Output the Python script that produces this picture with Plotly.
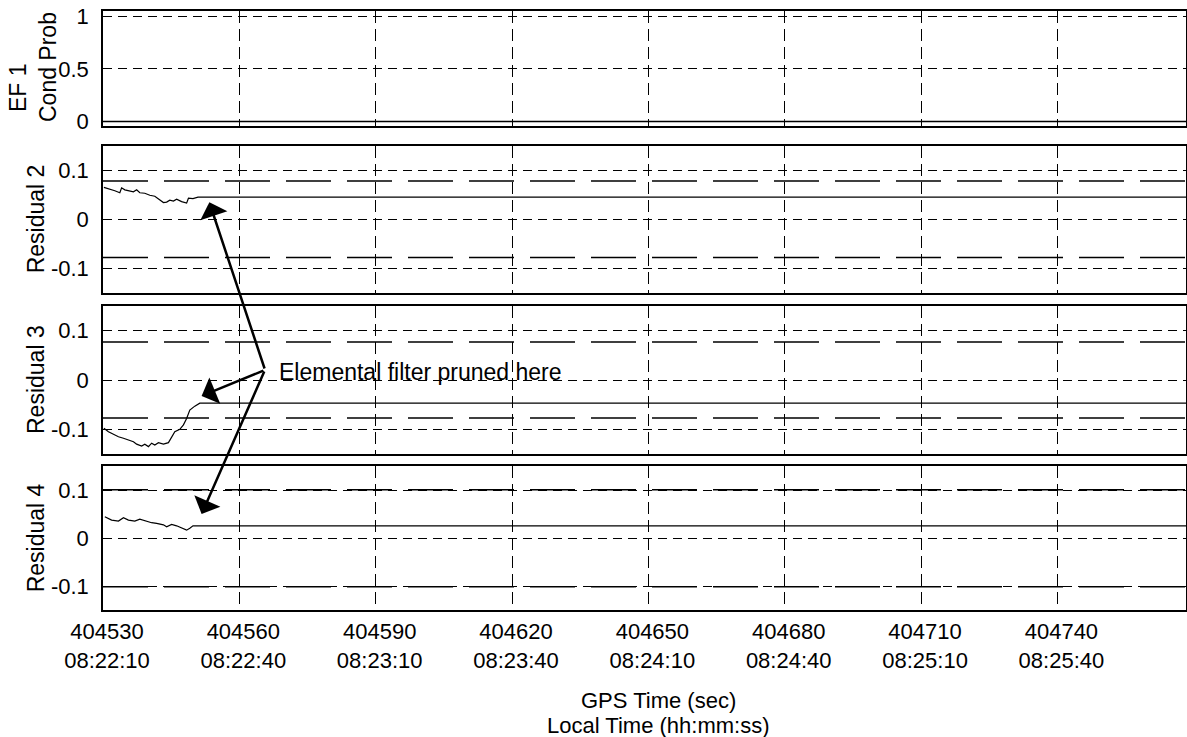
import plotly.graph_objects as go

W, H = 1187, 737
FONT = "Liberation Sans, Arial, Helvetica, sans-serif"

# GPS time window (s) and tick labels
t_start, t_end = 404530.0, 404768.3
tick_gps = [404530, 404560, 404590, 404620, 404650, 404680, 404710, 404740]
tick_local = ["08:22:10", "08:22:40", "08:23:10", "08:23:40",
              "08:24:10", "08:24:40", "08:25:10", "08:25:40"]

# Elemental filter 1 conditional probability
ef1_time = [404530.0, 404768.3]
ef1_prob = [0.0, 0.0]

# Residual 2 (held after pruning)
res2_time = [404530.2, 404531.5, 404532.6, 404533.7, 404534.1, 404534.8, 404535.9,
             404536.7, 404537.4, 404538.1, 404539.2, 404540.3, 404541.4, 404542.5,
             404543.3, 404544.0, 404544.7, 404545.5, 404546.2, 404547.3, 404548.4,
             404548.8, 404549.8, 404550.9]
res2_val = [0.065, 0.062, 0.058, 0.054, 0.064, 0.060, 0.058, 0.056, 0.060, 0.054,
            0.053, 0.049, 0.047, 0.039, 0.034, 0.035, 0.039, 0.037, 0.041, 0.036,
            0.033, 0.043, 0.042, 0.045]
res2_hold = 0.045
res2_bound = 0.078

# Residual 3
res3_time = [404530.2, 404531.2, 404532.3, 404533.4, 404534.5, 404535.6, 404536.7,
             404537.4, 404538.5, 404539.2, 404540.0, 404540.7, 404541.4, 404542.2,
             404543.3, 404544.4, 404545.1, 404545.8, 404546.9, 404547.7, 404548.4,
             404549.1, 404550.2, 404551.3]
res3_val = [-0.098, -0.105, -0.110, -0.115, -0.118, -0.122, -0.125, -0.130, -0.134,
            -0.130, -0.135, -0.128, -0.132, -0.127, -0.130, -0.127, -0.115, -0.105,
            -0.100, -0.091, -0.078, -0.061, -0.053, -0.047]
res3_hold = -0.047
res3_bound = 0.077

# Residual 4
res4_time = [404530.4, 404531.9, 404533.4, 404534.5, 404535.6, 404537.0, 404538.1,
             404539.6, 404540.7, 404541.8, 404543.3, 404544.0, 404545.1, 404546.2,
             404547.3, 404548.4, 404549.1, 404549.8]
res4_val = [0.045, 0.038, 0.036, 0.043, 0.038, 0.036, 0.040, 0.035, 0.0325, 0.031,
            0.028, 0.024, 0.029, 0.026, 0.021, 0.017, 0.021, 0.026]
res4_hold = 0.026
res4_bound = 0.101

# Pruning markers: arrow tips on each residual panel
prune_tips = [(404553.4, 0.0346), (404551.7, -0.0325), (404551.7, 0.0506)]
note_text = "Elemental filter pruned here"

# panel layout in pixels (top, bottom) and y ranges
panels = [
    dict(top=11, bottom=126, rng=[-0.043, 1.052], vals=[0, 0.5, 1], text=["0", "0.5", "1"]),
    dict(top=145.6, bottom=293, rng=[-0.15, 0.15], vals=[-0.1, 0, 0.1], text=["-0.1", "0", "0.1"]),
    dict(top=306, bottom=454, rng=[-0.15, 0.15], vals=[-0.1, 0, 0.1], text=["-0.1", "0", "0.1"]),
    dict(top=466.3, bottom=610.3, rng=[-0.15, 0.15], vals=[-0.1, 0, 0.1], text=["-0.1", "0", "0.1"]),
]
x_dom = [103 / W, 1186 / W]

fig = go.Figure()

def add_line(i, x, y, width=1.2, dash="solid"):
    fig.add_trace(go.Scatter(
        x=x, y=y, mode="lines", xaxis=f"x{i}", yaxis=f"y{i}",
        line=dict(color="black", width=width, dash=dash),
        showlegend=False, hoverinfo="skip"))

add_line(1, ef1_time, ef1_prob, width=1.5)

for i, (tt, vv, hold, bound) in enumerate([
        (res2_time, res2_val, res2_hold, res2_bound),
        (res3_time, res3_val, res3_hold, res3_bound),
        (res4_time, res4_val, res4_hold, res4_bound)], start=2):
    add_line(i, [t_start, t_end], [bound, bound], width=1.5, dash="45px,16px")
    add_line(i, [t_start, t_end], [-bound, -bound], width=1.5, dash="45px,16px")
    add_line(i, tt + [t_end], vv + [hold], width=1.2)

layout = dict(
    width=W, height=H,
    margin=dict(l=0, r=0, t=0, b=0, autoexpand=False),
    paper_bgcolor="white", plot_bgcolor="white",
    font=dict(family=FONT, size=22, color="black"),
    showlegend=False,
)

bottom_ticktext = [f"{g}<br>{l}" for g, l in zip(tick_gps, tick_local)]

for i, p in enumerate(panels, start=1):
    sfx = "" if i == 1 else str(i)
    layout["xaxis" + sfx] = dict(
        domain=x_dom, range=[t_start, t_end], anchor="y" + sfx,
        tickmode="array", tickvals=tick_gps,
        ticktext=bottom_ticktext if i == 4 else None,
        showticklabels=(i == 4), ticks="",
        ticklabelstandoff=1, ticklabelshift=4, automargin=False,
        showgrid=True, gridcolor="black", gridwidth=1, griddash="12px,6px",
        showline=True, mirror=True, linecolor="black", linewidth=1.5,
        zeroline=False, tickfont=dict(size=22),
    )
    layout["yaxis" + sfx] = dict(
        domain=[1 - p["bottom"] / H, 1 - p["top"] / H], range=p["rng"],
        anchor="x" + sfx, tickmode="array", tickvals=p["vals"], ticktext=p["text"],
        ticks="", ticklabelstandoff=8, automargin=False,
        showgrid=True, gridcolor="black", gridwidth=1, griddash="9px,6px",
        showline=True, mirror=True, linecolor="black", linewidth=1.5,
        zeroline=False, tickfont=dict(size=22),
    )

def paper_text(text, px, py, angle=0, size=23):
    return dict(text=text, x=px / W, y=1 - py / H, xref="paper", yref="paper",
                xanchor="center", yanchor="middle", textangle=angle,
                showarrow=False, font=dict(size=size))

annotations = []
# y-axis titles
annotations.append(paper_text("EF 1", 18, 88, -90))
annotations.append(paper_text("Cond Prob", 48, 67, -90))
for i, p in enumerate(panels[1:], start=2):
    annotations.append(paper_text(f"Residual {i}", 36, (p["top"] + p["bottom"]) / 2, -90))
# x-axis titles
annotations.append(paper_text("GPS Time (sec)", 658, 700, size=22))
annotations.append(paper_text("Local Time (hh:mm:ss)", 658, 725, size=22))

# pruning arrows, all starting from a common point next to the note
offsets = [(55.7, 167.7), (63.3, -26.0), (63.3, -144.0)]
for k, ((tx, ty), (ax, ay)) in enumerate(zip(prune_tips, offsets), start=2):
    annotations.append(dict(text="", x=tx, y=ty, xref=f"x{k}", yref=f"y{k}",
                            ax=ax, ay=ay, showarrow=True, arrowhead=1, arrowsize=1.9,
                            arrowwidth=2.5, arrowcolor="black", standoff=0))
annotations.append(dict(text=note_text, x=404568.2, y=0.016, xref="x3", yref="y3",
                        xanchor="left", yanchor="middle", showarrow=False,
                        font=dict(size=23)))
layout["annotations"] = annotations

fig.update_layout(**layout)
fig.write_html("out.html")
